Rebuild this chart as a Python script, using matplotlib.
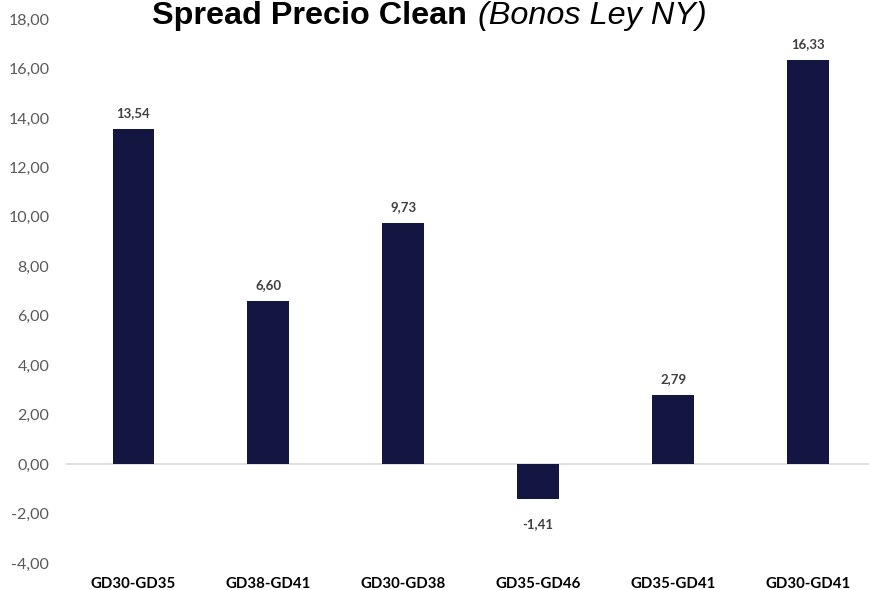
import matplotlib
matplotlib.use("Agg")
import matplotlib.pyplot as plt
from matplotlib.ticker import FuncFormatter

categories = ["GD30-GD35", "GD38-GD41", "GD30-GD38", "GD35-GD46", "GD35-GD41", "GD30-GD41"]
values = [13.54, 6.60, 9.73, -1.41, 2.79, 16.33]
y_ticks = [-4, -2, 0, 2, 4, 6, 8, 10, 12, 14, 16, 18]

W, H = 869, 590
fig = plt.figure(figsize=(W / 100, H / 100), dpi=100)
fig.patch.set_facecolor("white")

left_px, right_px = 66, 875.5
top_px, bottom_px = 19, 563
ax = fig.add_axes([left_px / W, 1 - bottom_px / H, (right_px - left_px) / W, (bottom_px - top_px) / H])

bar_color = "#121640"
x = list(range(len(categories)))
ax.bar(x, values, width=0.31, color=bar_color, zorder=3)
ax.axhline(0, color="#D9D9D9", lw=1.2, zorder=2)

ax.set_xlim(-0.5, len(categories) - 0.5)
ax.set_ylim(y_ticks[0], y_ticks[-1])
ax.set_yticks(y_ticks)
ax.yaxis.set_major_formatter(FuncFormatter(lambda v, p: f"{v:.2f}".replace(".", ",")))
ax.set_xticks(x)
ax.set_xticklabels(categories)

for s in ax.spines.values():
    s.set_visible(False)
ax.tick_params(axis="both", length=0)
ax.tick_params(axis="y", pad=12, labelsize=11.5, labelcolor="#595959")
ax.tick_params(axis="x", pad=10, labelsize=10.8, labelcolor="black")
for lab in ax.get_yticklabels():
    lab.set_family("Lato")
for lab in ax.get_xticklabels():
    lab.set_family("Lato")
    lab.set_fontweight("bold")

for xi, v in zip(x, values):
    lbl = f"{v:.2f}".replace(".", ",")
    off = 11.5 if v >= 0 else -18
    ax.annotate(lbl, (xi, v), xytext=(0, off), textcoords="offset points",
                ha="center", va="center", fontsize=9.5, fontweight="bold",
                color="#404040", family="Lato")

# Title: bold part + italic part
base_y = 1 - 24 / H
t1 = fig.text(152 / W, base_y, "Spread Precio Clean", fontsize=23.3,
              fontweight="bold", family="Liberation Sans", ha="left", va="baseline", color="black")
fig.canvas.draw()
bb = t1.get_window_extent(renderer=fig.canvas.get_renderer())
fig.text((bb.x1 + 11) / W, base_y, "(Bonos Ley NY)", fontsize=23.3,
         fontstyle="italic", family="Liberation Sans", ha="left", va="baseline", color="black")

fig.savefig("out.png", dpi=100)
